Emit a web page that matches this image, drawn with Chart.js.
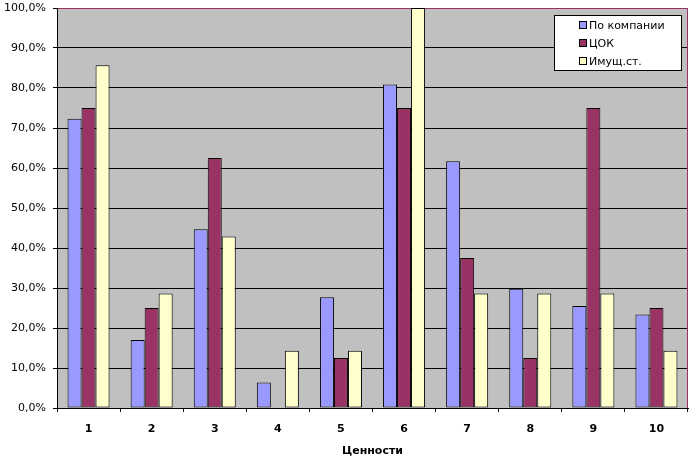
<!DOCTYPE html>
<html>
<head>
<meta charset="utf-8">
<script src="https://cdn.jsdelivr.net/npm/chart.js@4/dist/chart.umd.min.js"></script>
<style>
  html, body { margin: 0; padding: 0; background: #fff; }
  #wrap { width: 693px; height: 459px; }
</style>
</head>
<body>
<div id="wrap"><canvas id="c1" width="693" height="459"></canvas></div>
<script>
// values, in percent
var categories = ["1", "2", "3", "4", "5", "6", "7", "8", "9", "10"];
var companyValues = [72.3, 17.0, 44.7, 6.4, 27.7, 80.9, 61.7, 29.8, 25.5, 23.4];
var tsokValues = [75.0, 25.0, 62.5, 0, 12.5, 75.0, 37.5, 12.5, 75.0, 25.0];
var propertyValues = [85.7, 28.6, 42.9, 14.3, 14.3, 100.0, 28.6, 28.6, 28.6, 14.3];
var seriesNames = ["По компании", "ЦОК", "Имущ.ст."];
var seriesColors = ["#9999FF", "#993366", "#FFFFCC"];
var axisTitle = "Ценности";

var FONT = "'DejaVu Sans', Verdana, sans-serif";

// gray plot area + magenta right edge like the excel picture
var plotArea = {
    id: 'plotArea',
    beforeDraw(chart) {
        let a = chart.chartArea;
        let ctx = chart.ctx;
        ctx.save();
        ctx.fillStyle = "#C0C0C0";
        ctx.fillRect(a.left, a.top, a.right - a.left, a.bottom - a.top);
        ctx.restore();
    },
    afterDraw(chart) {
        let a = chart.chartArea;
        let ctx = chart.ctx;
        ctx.save();
        ctx.strokeStyle = "#993366";
        ctx.lineWidth = 1;
        ctx.beginPath();
        ctx.moveTo(a.right - 0.5, a.top);
        ctx.lineTo(a.right - 0.5, a.bottom);
        ctx.stroke();
        ctx.restore();
    }
};

// legend box inside the plot, top right
var boxLegend = {
    id: 'boxLegend',
    afterDraw(chart) {
        let ctx = chart.ctx;
        let x = 554, y = 15, w = 128, h = 56;
        ctx.save();
        ctx.fillStyle = "#fff";
        ctx.fillRect(x, y, w, h);
        ctx.strokeStyle = "#000";
        ctx.lineWidth = 1;
        ctx.strokeRect(x + 0.5, y + 0.5, w - 1, h - 1);
        ctx.font = "11px " + FONT;
        ctx.textBaseline = "middle";
        ctx.textAlign = "left";
        chart.data.datasets.forEach((ds, i) => {
            let cy = 25 + i * 18;
            ctx.fillStyle = ds.backgroundColor;
            ctx.fillRect(579, cy - 4, 8, 8);
            ctx.strokeStyle = "#000";
            ctx.strokeRect(579.5, cy - 3.5, 7, 7);
            ctx.fillStyle = "#000";
            ctx.fillText(ds.label, 589, cy + 1);
        });
        ctx.restore();
    }
};

function makeSet(i, values) {
    return {
        label: seriesNames[i],
        data: values,
        backgroundColor: seriesColors[i],
        borderColor: "#000",
        borderWidth: 1,
        borderSkipped: false,
        categoryPercentage: 0.666,
        barPercentage: 1.0
    };
}

function start() {
    let canvas1 = document.getElementById("c1");
    new Chart(canvas1, {
        type: 'bar',
        data: {
            labels: categories,
            datasets: [
                makeSet(0, companyValues),
                makeSet(1, tsokValues),
                makeSet(2, propertyValues)
            ]
        },
        options: {
            responsive: false,
            animation: false,
            devicePixelRatio: 1,
            layout: { padding: { top: 8, right: 5, left: 0, bottom: 0 } },
            plugins: {
                legend: { display: false },
                tooltip: { enabled: false }
            },
            scales: {
                x: {
                    grid: {
                        offset: true,
                        drawOnChartArea: false,
                        drawTicks: true,
                        tickLength: 4,
                        color: "#000",
                        tickColor: "#000"
                    },
                    border: { color: "#000", width: 1 },
                    ticks: {
                        color: "#000",
                        padding: 11,
                        maxRotation: 0,
                        font: { family: FONT, size: 11, weight: 'bold' }
                    },
                    title: {
                        display: true,
                        text: axisTitle,
                        color: "#000",
                        padding: { top: 0, bottom: 1 },
                        font: { family: FONT, size: 11, weight: 'bold' }
                    },
                    afterFit: (scale) => {
                        scale.height = 51;
                        scale.paddingLeft = 0;
                        scale.paddingRight = 0;
                    }
                },
                y: {
                    min: 0,
                    max: 100,
                    grid: {
                        color: (c) => (c.tick && c.tick.value === 100) ? "#993366" : "#000",
                        tickColor: "#000",
                        tickLength: 4,
                        lineWidth: 1
                    },
                    border: { color: "#000", width: 1 },
                    ticks: {
                        stepSize: 10,
                        color: "#000",
                        padding: 7,
                        font: { family: FONT, size: 11 },
                        callback: (v) => v.toFixed(1).replace(".", ",") + "%"
                    },
                    afterFit: (scale) => {
                        scale.width = 57;
                        scale.paddingTop = 0;
                        scale.paddingBottom = 0;
                    }
                }
            }
        },
        plugins: [plotArea, boxLegend]
    });
}

start();
</script>
</body>
</html>
